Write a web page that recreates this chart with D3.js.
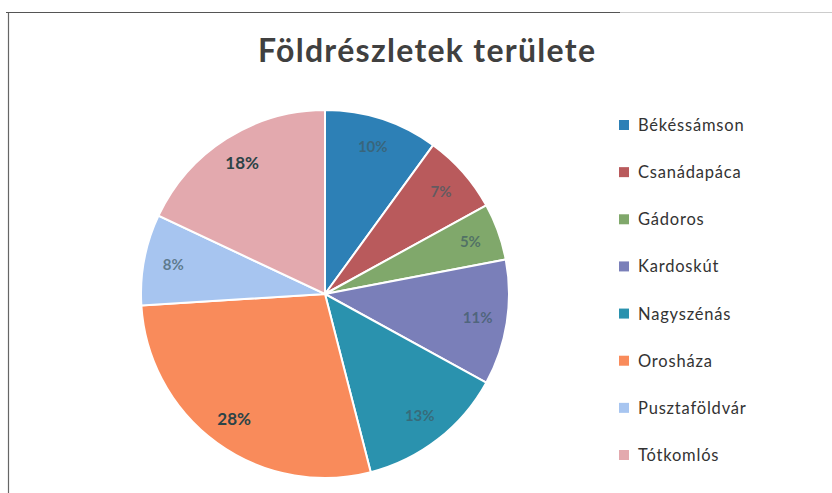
<!DOCTYPE html>
<html lang="hu">
<head>
<meta charset="utf-8">
<title>Földrészletek területe</title>
<script src="https://d3js.org/d3.v7.min.js"></script>
<style>
  body { margin: 0; background: #fff; }
  svg { display: block; font-family: Lato, "Open Sans", sans-serif; }
</style>
</head>
<body>
<div id="chart"></div>
<script>
// data
const places = ["Békéssámson", "Csanádapáca", "Gádoros", "Kardoskút", "Nagyszénás", "Orosháza", "Pusztaföldvár", "Tótkomlós"];
const shares = [10, 7, 5, 11, 13, 28, 8, 18];
const colors = ["#2d80b6", "#b95a5c", "#80a86b", "#7a7fb9", "#2a92ae", "#f98b5b", "#a7c5f0", "#e3a9ae"];

const W = 832, H = 493;
const cx = 325, cy = 294, R = 184;

const svg = d3.select("#chart").append("svg")
    .attr("width", W)
    .attr("height", H);

// frame lines of the scanned chart box
svg.append("line").attr("x1", 6).attr("x2", 620).attr("y1", 12.5).attr("y2", 12.5)
    .attr("stroke", "#555").attr("stroke-width", 1.2);
svg.append("line").attr("x1", 620).attr("x2", 832).attr("y1", 12.5).attr("y2", 12.5)
    .attr("stroke", "#ccc").attr("stroke-width", 1.2);
svg.append("line").attr("x1", 8.5).attr("x2", 8.5).attr("y1", 13).attr("y2", H)
    .attr("stroke", "#666").attr("stroke-width", 1.2);

svg.append("text")
    .attr("x", 258).attr("y", 62)
    .attr("font-size", 32)
    .attr("font-weight", "bold")
    .attr("fill", "#404040")
    .attr("textLength", 337)
    .attr("lengthAdjust", "spacing")
    .text("Földrészletek területe");

const color = d3.scaleOrdinal().domain(places).range(colors);

const pie = d3.pie().sort(null).value(d => d.v);
const arcs = pie(places.map((p, i) => ({name: p, v: shares[i]})));

const arc = d3.arc().innerRadius(0).outerRadius(R);
const labelArc = d3.arc().innerRadius(R * 0.84).outerRadius(R * 0.84);

const g = svg.append("g").attr("transform", `translate(${cx},${cy})`);

g.selectAll("path")
  .data(arcs)
  .join("path")
    .attr("d", arc)
    .attr("fill", d => color(d.data.name))
    .attr("stroke", "#fff")
    .attr("stroke-width", 2);

const strong = v => v === 18 || v === 28;

g.selectAll("text")
  .data(arcs)
  .join("text")
    .attr("transform", d => `translate(${labelArc.centroid(d)})`)
    .attr("text-anchor", "middle")
    .attr("dy", "0.35em")
    .attr("font-size", d => strong(d.data.v) ? 17 : 15)
    .attr("font-weight", "bold")
    .attr("fill", d => strong(d.data.v) ? "#2c4347" : "#3d5a63")
    .attr("fill-opacity", d => strong(d.data.v) ? 1 : 0.7)
    .text(d => d.data.v + "%");

// legend
const ly = d3.scalePoint().domain(places).range([125, 455]);

const legend = svg.append("g").attr("transform", "translate(619,0)");
const items = legend.selectAll("g")
  .data(places)
  .join("g")
    .attr("transform", d => `translate(0,${ly(d)})`);

items.append("rect")
    .attr("x", 0).attr("y", -5)
    .attr("width", 10).attr("height", 10)
    .attr("fill", d => color(d));

items.append("text")
    .attr("x", 19)
    .attr("dy", "0.36em")
    .attr("font-size", 16.5)
    .attr("letter-spacing", 0.8)
    .attr("fill", "#333")
    .text(d => d);
</script>
</body>
</html>
